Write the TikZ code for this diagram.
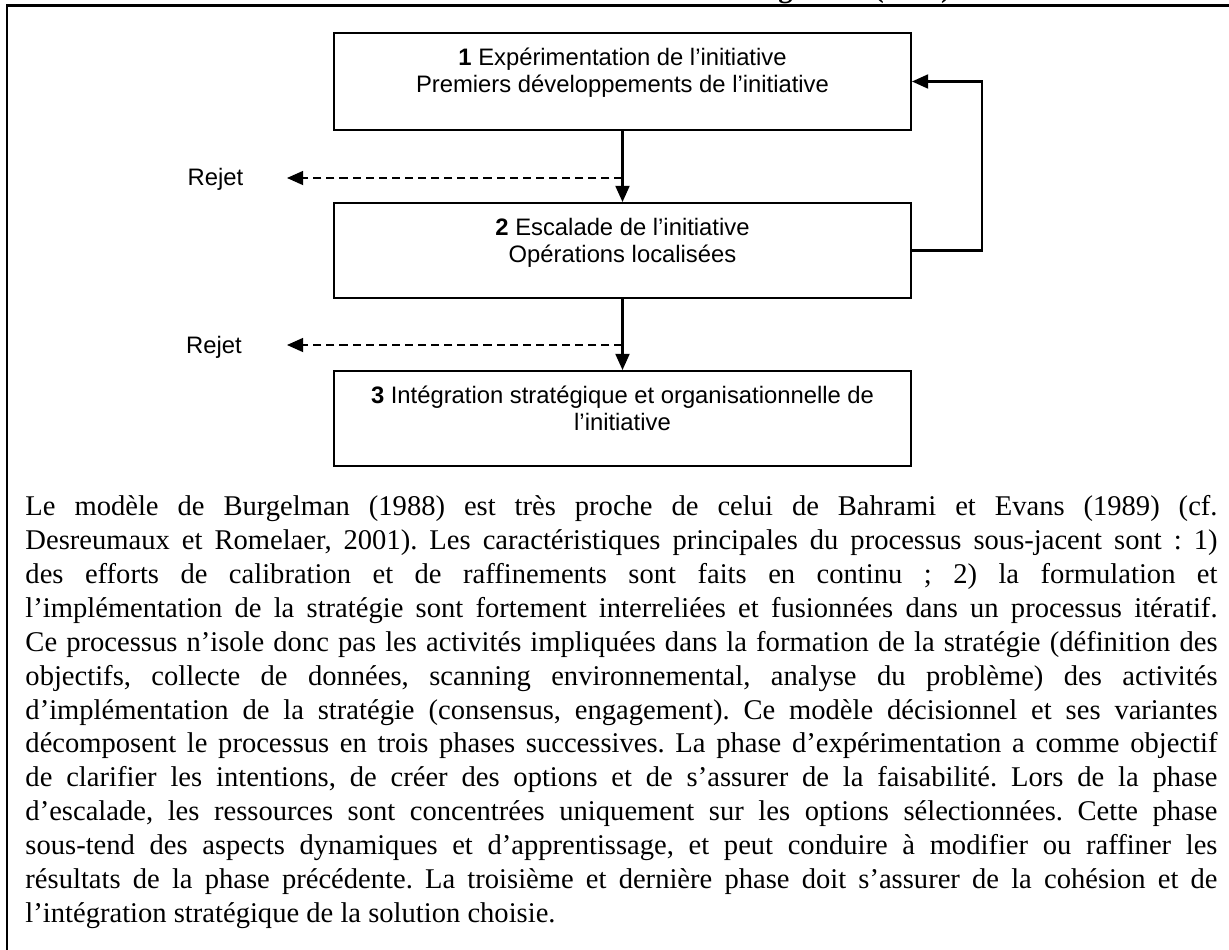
\documentclass[tikz,border=0pt]{standalone}
\usepackage{fontspec}
\setmainfont{Liberation Serif}
\newfontfamily\diagfont{Liberation Sans}
\usetikzlibrary{arrows.meta}
\begin{document}
\begin{tikzpicture}[x=0.42pt,y=-0.42pt,
  frame/.style={line width=1.1pt},
  box/.style={draw, line width=0.85pt, minimum width=242.34pt, inner sep=0pt},
  conn/.style={line width=0.85pt, -{Triangle[length=6.8pt,width=5.9pt]}},
  rejline/.style={line width=0.7pt, dash pattern=on 3.4pt off 2.1pt, -{Triangle[length=6.8pt,width=5.9pt]}},
  lbl/.style={font=\diagfont\fontsize{10}{11.5}\selectfont, inner sep=0pt, anchor=base},
]
\useasboundingbox (0,0) rectangle (1229,949);
\clip (0,0) rectangle (1229,949);
\fill[white] (0,0) rectangle (1229,949);
\node[font=\bfseries\fontsize{12}{14}\selectfont, anchor=base east, inner sep=0pt] (title) at (951,-3) {Burgelman (1988)};
\coordinate (fTL) at (7,5.5);
\coordinate (fTR) at (1240,5.5);
\coordinate (fBL) at (7,960);
\draw[frame] (fTR) -- (fTL) -- (fBL);

\node[box, minimum height=40.74pt] (b1) at (622.5,81.5) {};
\node[box, minimum height=39.9pt] (b2) at (622.5,250.5) {};
\node[box, minimum height=39.9pt] (b3) at (622.5,418.5) {};

\node[lbl] (t1a) at (622.5,65) {\textbf{1} Expérimentation de l’initiative};
\node[lbl] (t1b) at (622.5,92) {Premiers développements de l’initiative};
\node[lbl] (t2a) at (622.5,235) {\textbf{2} Escalade de l’initiative};
\node[lbl] (t2b) at (622.5,262) {Opérations localisées};
\node[lbl] (t3a) at (622.5,403) {\textbf{3} Intégration stratégique et organisationnelle de};
\node[lbl] (t3b) at (622.5,430) {l’initiative};

\draw[conn] (b1.south) -- (b2.north);
\draw[conn] (b2.south) -- (b3.north);
\coordinate (fb) at (982,250.5);
\draw[conn] (b2.east) -- (fb) |- (b1.east);

\coordinate (j1) at (622.5,178);
\coordinate (e1) at (287,178);
\draw[rejline] (j1) -- (e1);
\node[lbl] (r1) at (215.5,185) {Rejet};
\coordinate (j2) at (622.5,345);
\coordinate (e2) at (287,345);
\draw[rejline] (j2) -- (e2);
\node[lbl] (r2) at (214,353) {Rejet};

\node[anchor=north west, inner sep=0pt, text width=500.64pt, align=justify,
      font=\fontsize{12}{14.25}\selectfont] (para) at (25,491.2) {%
\noindent\frenchspacing\hyphenpenalty=10000\exhyphenpenalty=10000\tolerance=10000\hbadness=10000%
\rule{0pt}{10pt}Le modèle de Burgelman (1988) est très proche de celui de Bahrami et Evans (1989) (cf.\linebreak
Desreumaux et Romelaer, 2001). Les caractéristiques principales du processus sous-jacent sont~: 1)\linebreak
des efforts de calibration et de raffinements sont faits en continu ; 2) la formulation et\linebreak
l’implémentation de la stratégie sont fortement interreliées et fusionnées dans un processus itératif.\linebreak
Ce processus n’isole donc pas les activités impliquées dans la formation de la stratégie (définition des\linebreak
objectifs, collecte de données, scanning environnemental, analyse du problème) des activités\linebreak
d’implémentation de la stratégie (consensus, engagement). Ce modèle décisionnel et ses variantes\linebreak
décomposent le processus en trois phases successives. La phase d’expérimentation a comme objectif\linebreak
de clarifier les intentions, de créer des options et de s’assurer de la faisabilité. Lors de la phase\linebreak
d’escalade, les ressources sont concentrées uniquement sur les options sélectionnées. Cette phase\linebreak
sous-tend des aspects dynamiques et d’apprentissage, et peut conduire à modifier ou raffiner les\linebreak
résultats de la phase précédente. La troisième et dernière phase doit s’assurer de la cohésion et de\linebreak
l’intégration stratégique de la solution choisie.\par};
\end{tikzpicture}
\end{document}
